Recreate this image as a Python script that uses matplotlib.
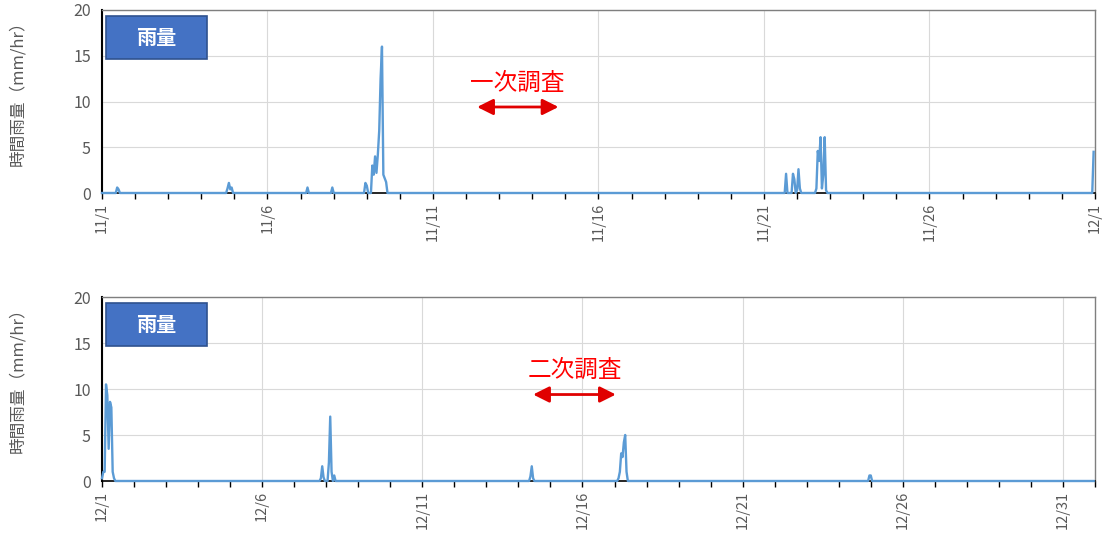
import numpy as np
import pandas as pd
import matplotlib
matplotlib.use("Agg")
import matplotlib.pyplot as plt
import matplotlib.dates as mdates
from matplotlib.patches import Rectangle

plt.rcParams['font.family'] = ['Noto Sans CJK JP', 'DejaVu Sans']

# hourly rain (mm/hr), only the non-zero hours, the rest is 0
nov_hours = ["11/01 11", "11/01 12",
             "11/04 19", "11/04 20", "11/04 21", "11/04 22",
             "11/07 05", "11/07 23",
             "11/08 23", "11/09 00",
             "11/09 04", "11/09 05", "11/09 06", "11/09 07", "11/09 08", "11/09 09",
             "11/09 10", "11/09 11", "11/09 12", "11/09 13", "11/09 14",
             "11/21 16", "11/21 21", "11/21 22", "11/22 00", "11/22 01", "11/22 02",
             "11/22 14", "11/22 15", "11/22 16", "11/22 17", "11/22 18", "11/22 19",
             "11/22 20", "11/22 21",
             "11/30 23"]
nov_rain = [0.6, 0.4,
            0.5, 1.1, 0.4, 0.6,
            0.6, 0.6,
            1.1, 0.8,
            3.0, 2.0, 4.0, 2.2, 4.2, 6.8,
            12.5, 16.0, 2.0, 1.6, 1.2,
            2.1, 2.1, 1.5, 0.3, 2.6, 0.5,
            0.5, 4.6, 3.5, 6.1, 0.5, 2.0,
            6.1, 0.3,
            4.5]

dec_hours = ["12/01 00", "12/01 01", "12/01 02", "12/01 03", "12/01 04", "12/01 05",
             "12/01 06", "12/01 07", "12/01 08", "12/01 09",
             "12/07 20", "12/07 21", "12/07 22",
             "12/08 02", "12/08 03", "12/08 04", "12/08 06",
             "12/14 09", "12/14 10", "12/14 11",
             "12/17 03", "12/17 04", "12/17 05", "12/17 06", "12/17 07", "12/17 08", "12/17 09",
             "12/24 23", "12/25 00"]
dec_rain = [0.3, 1.0, 1.0, 10.5, 9.3, 3.5,
            8.6, 8.0, 1.0, 0.3,
            0.3, 1.6, 0.4,
            2.0, 7.0, 1.0, 0.6,
            0.5, 1.6, 0.3,
            0.3, 1.0, 3.0, 2.6, 4.2, 5.0, 1.0,
            0.6, 0.6]

YEAR = 2019


def hourly(start, end, hours, vals):
    idx = pd.date_range(start, end, freq="h")
    s = pd.Series(0.0, index=idx)
    for h, v in zip(hours, vals):
        s[pd.Timestamp(f"{YEAR}/{h}:00")] = v
    return s


nov = hourly(f"{YEAR}-11-01 00:00", f"{YEAR}-11-30 23:00", nov_hours, nov_rain)
dec = hourly(f"{YEAR}-12-01 00:00", f"{YEAR}-12-31 23:00", dec_hours, dec_rain)

W, H = 1107, 535
fig = plt.figure(figsize=(W / 100, H / 100), dpi=100)

panels = [
    (nov, (102, 10, 1095, 193), pd.Timestamp(f"{YEAR}-11-01"), pd.Timestamp(f"{YEAR}-12-01"),
     "一次調査", ("11/12 08", "11/14 19"), "11/13 13"),
    (dec, (102, 297, 1095, 481), pd.Timestamp(f"{YEAR}-12-01"), pd.Timestamp(f"{YEAR + 1}-01-01"),
     "二次調査", ("12/14 11", "12/17 01"), "12/15 18"),
]

grey = '#595959'
for s, (x0, y0, x1, y1), t0, t1, label, (a0, a1), tx in panels:
    ax = fig.add_axes([x0 / W, 1 - y1 / H, (x1 - x0) / W, (y1 - y0) / H])
    ax.plot(s.index, s.values, color='#5B9BD5', lw=1.7, zorder=3, clip_on=False)
    ax.set_xlim(t0, t1)
    ax.set_ylim(0, 20)
    ax.set_yticks([0, 5, 10, 15, 20])

    majors = pd.date_range(t0, t1, freq="D")[::5]
    ax.set_xticks(majors)
    ax.set_xticklabels([f"{d.month}/{d.day}" for d in majors], rotation=90)
    ax.xaxis.set_minor_locator(mdates.DayLocator())
    ax.tick_params(axis='x', which='both', direction='out', length=4, width=1,
                   color='black', labelcolor=grey, labelsize=10.5, pad=3)
    ax.tick_params(axis='y', length=0, labelcolor=grey, labelsize=11.5, pad=8)

    ax.grid(True, which='major', color='#D9D9D9', lw=0.8)
    ax.set_axisbelow(True)
    ax.spines['left'].set_color('black')
    ax.spines['left'].set_linewidth(1.5)
    ax.spines['bottom'].set_color('black')
    ax.spines['bottom'].set_linewidth(1.2)
    for side in ('top', 'right'):
        ax.spines[side].set_color('#7F7F7F')
        ax.spines[side].set_linewidth(1.0)

    ax.set_ylabel("時間雨量（mm/hr）", color=grey, fontsize=12)
    ax.yaxis.set_label_coords(-0.076, 0.57)

    ax.add_patch(Rectangle((0.004, 0.732), 0.102, 0.235, transform=ax.transAxes,
                           facecolor='#4472C4', edgecolor='#2F528F', lw=1.2, zorder=5))
    ax.text(0.055, 0.85, "雨量", transform=ax.transAxes, color='white',
            fontsize=14.5, fontweight='bold', ha='center', va='center', zorder=6)

    ta = pd.Timestamp(f"{YEAR}/{a0}:00")
    tb = pd.Timestamp(f"{YEAR}/{a1}:00")
    ax.annotate('', xy=(tb, 9.4), xytext=(ta, 9.4),
                arrowprops=dict(arrowstyle='<|-|>', color='#E00000', lw=2,
                                mutation_scale=24, shrinkA=0, shrinkB=0), zorder=6)
    ax.text(pd.Timestamp(f"{YEAR}/{tx}:00"), 12.0, label, color='#FF0000',
            fontsize=17, ha='center', va='center', zorder=6)

fig.savefig("out.png", dpi=100)
